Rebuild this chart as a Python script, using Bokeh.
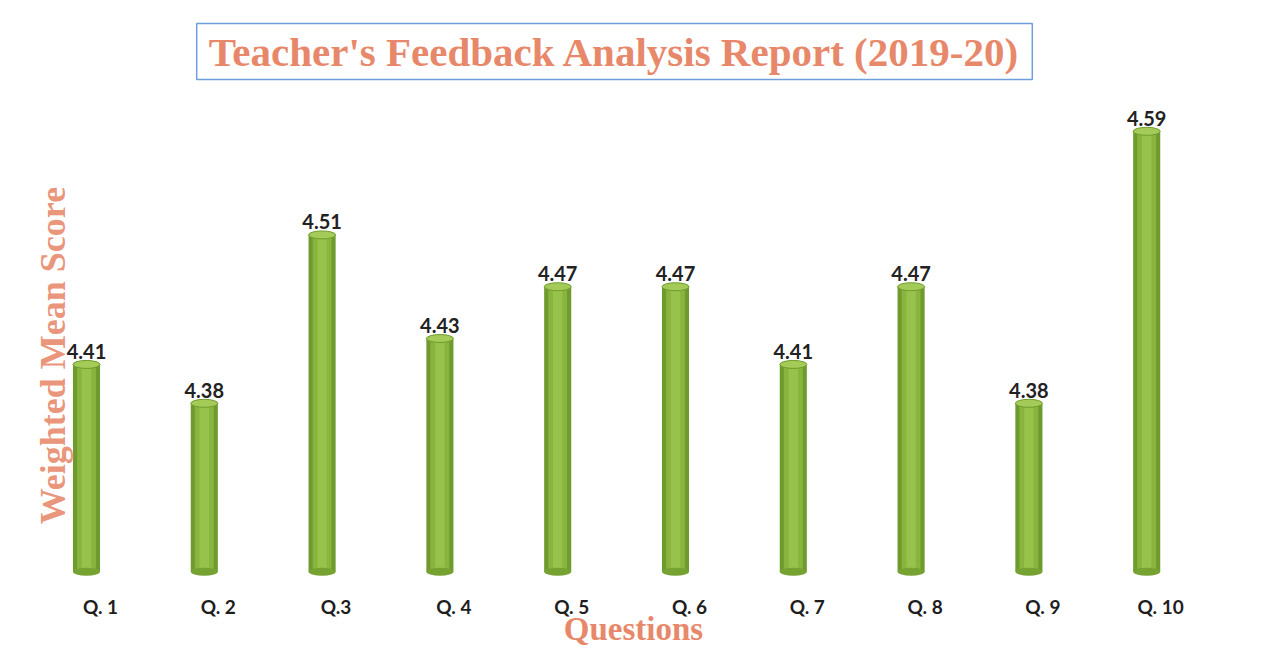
import math
from bokeh.plotting import figure
from bokeh.models import ColumnDataSource, Range1d, Label
from bokeh.core.properties import value
from bokeh.embed import file_html
from bokeh.resources import INLINE

# ---- data ----
categories = ["Q. 1", "Q. 2", "Q.3", "Q. 4", "Q. 5", "Q. 6", "Q. 7", "Q. 8", "Q. 9", "Q. 10"]
scores = [4.41, 4.38, 4.51, 4.43, 4.47, 4.47, 4.41, 4.47, 4.38, 4.59]
score_labels = ["4.41", "4.38", "4.51", "4.43", "4.47", "4.47", "4.41", "4.47", "4.38", "4.59"]
base_value = 4.25

title_text = "Teacher's Feedback Analysis Report (2019-20)"
y_title = "Weighted Mean Score"
x_title = "Questions"

# ---- layout ----
W, H = 1258, 645
X0, X1 = 0.270, 0.270 + W / 117.8
Y0, Y1 = 4.193, 4.691

def px_x(X):
    return X0 + X / W * (X1 - X0)

def px_y(Y):
    return Y1 - Y / H * (Y1 - Y0)

positions = list(range(1, len(categories) + 1))
src = ColumnDataSource(dict(x=positions, top=scores, cat=categories, lbl=score_labels,
                            base=[base_value] * len(scores)))

p = figure(width=W, height=H, x_range=Range1d(X0, X1), y_range=Range1d(Y0, Y1),
           x_axis_type=None, y_axis_type=None, toolbar_location=None,
           output_backend="svg", min_border=0, outline_line_color=None)
p.grid.visible = False
p.background_fill_color = "white"
p.border_fill_color = "white"

salmon = "#e8886a"

# cylinders
p.vbar(x="x", top="top", bottom="base", width=0.23, source=src,
       fill_color="#6f9b2e", line_color=None)
p.vbar(x="x", top="top", bottom="base", width=0.16, source=src,
       fill_color="#89b43e", line_color=None)
p.vbar(x="x", top="top", bottom="base", width=0.08, source=src,
       fill_color="#97c24c", line_color=None)
p.ellipse(x="x", y="base", width=27, height=8, width_units="screen", height_units="screen",
          source=src, fill_color="#76a232", line_color=None)
p.ellipse(x="x", y="top", width=27, height=8, width_units="screen", height_units="screen",
          source=src, fill_color="#a4cb58", line_color="#6f9b2e", line_width=1)

# value labels
p.text(x="x", y="top", text="lbl", source=src, text_align="center",
       text_baseline="alphabetic", y_offset=-13, text_font=value("Lato"),
       text_font_style="bold", text_font_size="20px", text_color="#222222")

# category labels
p.text(x="x", y="base", text="cat", source=src, text_align="center",
       text_baseline="middle", x_offset=14, y_offset=35, text_font=value("Lato"),
       text_font_style="bold", text_font_size="19px", text_color="#1e1e1e")

# titles
p.add_layout(Label(x=px_x(614), y=px_y(51), text=title_text, text_align="center",
                   text_baseline="middle", text_font="Liberation Serif",
                   text_font_style="bold", text_font_size="41px", text_color=salmon,
                   border_line_color="#6e9fdc", border_line_width=1.5,
                   background_fill_color="white", padding=(12, 5)))
p.add_layout(Label(x=px_x(52), y=px_y(355), text=y_title, angle=math.pi / 2,
                   text_align="center", text_baseline="middle",
                   text_font="Liberation Serif", text_font_style="bold",
                   text_font_size="36px", text_color=salmon, text_alpha=0.9))
p.add_layout(Label(x=px_x(633), y=px_y(628), text=x_title, text_align="center",
                   text_baseline="middle", text_font="Liberation Serif",
                   text_font_style="bold", text_font_size="33px", text_color=salmon))

open("out.html", "w").write(file_html(p, INLINE))
